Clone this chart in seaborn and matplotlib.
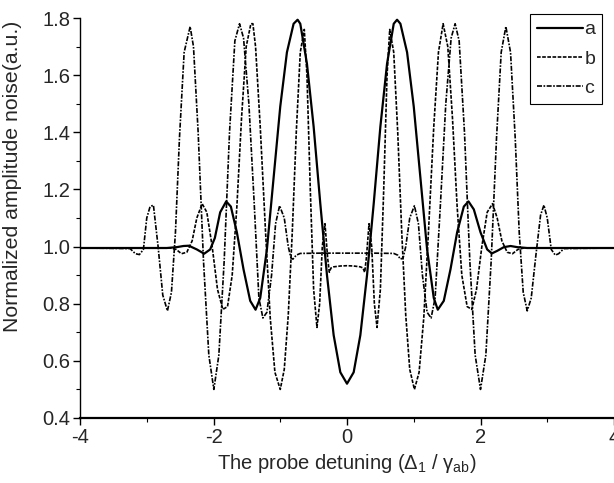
import matplotlib
matplotlib.use("Agg")
import matplotlib.pyplot as plt
import seaborn as sns
import pandas as pd
from matplotlib.ticker import MultipleLocator

# ---- data ----
x_a = [-4.0, -3.0, -2.7, -2.55, -2.45, -2.37, -2.25, -2.14, -2.05, -1.98, -1.9, -1.81, -1.74, -1.65, -1.55,
       -1.45, -1.37, -1.3, -1.2, -1.1, -1.0, -0.9, -0.8, -0.74, -0.7, -0.6, -0.5, -0.4, -0.3, -0.2, -0.1,
       0.0, 0.1, 0.2, 0.3, 0.4, 0.5, 0.6, 0.7, 0.75, 0.8, 0.9, 1.0, 1.1, 1.2, 1.3, 1.36, 1.45, 1.55,
       1.65, 1.75, 1.82, 1.9, 2.0, 2.1, 2.17, 2.25, 2.35, 2.45, 2.55, 2.7, 3.0, 4.0]
y_a = [0.995, 0.995, 0.995, 0.998, 1.002, 1.003, 0.99, 0.975, 0.99, 1.03, 1.12, 1.158, 1.14, 1.05, 0.92,
       0.81, 0.779, 0.82, 0.99, 1.24, 1.49, 1.68, 1.78, 1.794, 1.78, 1.64, 1.42, 1.15, 0.90, 0.69, 0.56,
       0.52, 0.56, 0.69, 0.90, 1.15, 1.42, 1.64, 1.78, 1.794, 1.78, 1.68, 1.49, 1.24, 0.99, 0.82, 0.779,
       0.81, 0.92, 1.05, 1.14, 1.158, 1.13, 1.05, 0.99, 0.976, 0.985, 0.998, 1.002, 0.998, 0.995, 0.995, 0.995]

x_b = [-4.0, -3.0, -2.65, -2.56, -2.48, -2.40, -2.32, -2.25, -2.17, -2.10, -2.02, -1.94, -1.86, -1.79,
       -1.72, -1.65, -1.58, -1.51, -1.44, -1.41, -1.37, -1.30, -1.22, -1.15, -1.08, -1.0, -0.94, -0.88,
       -0.82, -0.76, -0.70, -0.64, -0.60, -0.55, -0.50, -0.45, -0.41, -0.37, -0.33, -0.29, -0.265, -0.24,
       -0.2, -0.1, 0.0, 0.1, 0.2, 0.24, 0.265, 0.29, 0.33, 0.37, 0.41, 0.45, 0.5, 0.55, 0.6, 0.64, 0.7,
       0.76, 0.82, 0.88, 0.94, 1.01, 1.08, 1.15, 1.22, 1.30, 1.37, 1.44, 1.51, 1.58, 1.65, 1.72, 1.80,
       1.87, 1.94, 2.02, 2.10, 2.18, 2.25, 2.32, 2.40, 2.48, 2.56, 2.65, 3.0, 4.0]
y_b = [0.995, 0.995, 0.995, 0.99, 0.975, 0.98, 1.02, 1.10, 1.15, 1.12, 1.00, 0.85, 0.78, 0.79,
       0.90, 1.14, 1.45, 1.70, 1.78, 1.78, 1.70, 1.42, 1.05, 0.75, 0.56, 0.50, 0.57, 0.76,
       1.05, 1.40, 1.68, 1.76, 1.60, 1.20, 0.85, 0.717, 0.80, 1.00, 1.08, 0.96, 0.91, 0.925,
       0.929, 0.932, 0.933, 0.932, 0.929, 0.925, 0.91, 0.96, 1.08, 1.00, 0.80, 0.717, 0.85, 1.20, 1.60, 1.76, 1.68,
       1.40, 1.05, 0.76, 0.57, 0.50, 0.56, 0.75, 1.05, 1.42, 1.68, 1.78, 1.70, 1.45, 1.14, 0.90, 0.79,
       0.78, 0.85, 1.00, 1.12, 1.15, 1.10, 1.02, 0.98, 0.975, 0.99, 0.995, 0.995, 0.995]

x_c = [-4.0, -3.25, -3.17, -3.11, -3.05, -3.0, -2.95, -2.90, -2.83, -2.76, -2.69, -2.63, -2.57, -2.51,
       -2.44, -2.35, -2.30, -2.23, -2.15, -2.07, -1.995, -1.92, -1.84, -1.76, -1.68, -1.61, -1.55, -1.47,
       -1.39, -1.32, -1.26, -1.20, -1.13, -1.07, -1.01, -0.94, -0.88, -0.84, -0.81, -0.76, -0.7, -0.4, 0.0,
       0.4, 0.7, 0.76, 0.80, 0.84, 0.88, 0.94, 1.01, 1.07, 1.13, 1.20, 1.26, 1.32, 1.40, 1.48, 1.56, 1.62,
       1.68, 1.76, 1.84, 1.92, 2.0, 2.08, 2.16, 2.24, 2.31, 2.38, 2.45, 2.52, 2.58, 2.64, 2.70, 2.76, 2.83,
       2.90, 2.95, 3.0, 3.06, 3.12, 3.17, 3.25, 4.0]
y_c = [0.995, 0.993, 0.975, 0.972, 0.99, 1.10, 1.14, 1.145, 1.00, 0.83, 0.775, 0.84, 1.05, 1.38,
       1.68, 1.77, 1.70, 1.40, 0.95, 0.62, 0.50, 0.62, 0.95, 1.40, 1.72, 1.78, 1.73, 1.50,
       1.15, 0.82, 0.75, 0.77, 0.90, 1.08, 1.143, 1.10, 1.00, 0.96, 0.956, 0.97, 0.976, 0.977, 0.977,
       0.977, 0.976, 0.97, 0.956, 0.96, 1.00, 1.10, 1.143, 1.08, 0.90, 0.77, 0.75, 0.82, 1.15, 1.50, 1.73, 1.78,
       1.72, 1.40, 0.95, 0.62, 0.50, 0.62, 0.95, 1.38, 1.68, 1.77, 1.68, 1.38, 1.05, 0.84, 0.775, 0.82, 0.97,
       1.11, 1.145, 1.10, 0.99, 0.97, 0.975, 0.993, 0.995]

labels = ["a", "b", "c"]
x_ticks = [-4, -2, 0, 2, 4]
y_ticks = [0.4, 0.6, 0.8, 1.0, 1.2, 1.4, 1.6, 1.8]

# ---- style ----
sns.set_style("ticks")
plt.rcParams["font.family"] = ["Liberation Sans", "DejaVu Sans"]
plt.rcParams["mathtext.fontset"] = "custom"
plt.rcParams["mathtext.rm"] = "Liberation Sans"
plt.rcParams["mathtext.it"] = "Liberation Sans"
plt.rcParams["axes.unicode_minus"] = False

fig = plt.figure(figsize=(6.14, 4.83), dpi=100)
ax = fig.add_axes([0.1303, 0.1346, 0.8697, 0.8281])

df_a = pd.DataFrame({"x": x_a, "y": y_a})
df_b = pd.DataFrame({"x": x_b, "y": y_b})
df_c = pd.DataFrame({"x": x_c, "y": y_c})

sns.lineplot(data=df_a, x="x", y="y", ax=ax, color="black", lw=1.6, sort=False,
             label=labels[0], estimator=None)
sns.lineplot(data=df_b, x="x", y="y", ax=ax, color="black", lw=1.2, sort=False,
             label=labels[1], estimator=None, dashes=False)
sns.lineplot(data=df_c, x="x", y="y", ax=ax, color="black", lw=1.2, sort=False,
             label=labels[2], estimator=None, dashes=False)
lines = ax.get_lines()
lines[1].set_dashes([2.2, 0.9])
lines[2].set_dashes([3.0, 0.9, 1.0, 0.9])

ax.set_xlim(-4, 4)
ax.set_ylim(0.4, 1.8)
ax.set_xticks(x_ticks)
ax.set_yticks(y_ticks)
ax.set_xticklabels([str(t) for t in x_ticks])
ax.set_yticklabels([f"{t:.1f}" for t in y_ticks])
ax.xaxis.set_minor_locator(MultipleLocator(1))
ax.yaxis.set_minor_locator(MultipleLocator(0.1))
ax.tick_params(which="major", direction="out", length=5, width=1, labelsize=14.5, pad=2, color="black")
ax.tick_params(which="minor", direction="out", length=3, width=0.8, color="black")
for s in ["top", "right"]:
    ax.spines[s].set_visible(False)
for s in ["left", "bottom"]:
    ax.spines[s].set_color("black")
ax.spines["left"].set_linewidth(1.0)
ax.spines["bottom"].set_linewidth(1.6)

ax.set_xlabel("The probe detuning (Δ$_1$ / γ$_{\\mathrm{ab}}$)", fontsize=14.5, labelpad=4)
ax.set_ylabel("Normalized amplitude noise(a.u.)", fontsize=15.3)
ax.yaxis.set_label_coords(-0.108, 0.604)

leg = ax.legend(loc="upper right", bbox_to_anchor=(0.978, 1.01), fontsize=14,
                frameon=True, fancybox=False, edgecolor="black", framealpha=1,
                handlelength=2.4, handletextpad=0.05, labelspacing=0.6, borderpad=0.35,
                borderaxespad=0)
leg.get_frame().set_linewidth(0.8)

fig.savefig("out.png", dpi=100)
